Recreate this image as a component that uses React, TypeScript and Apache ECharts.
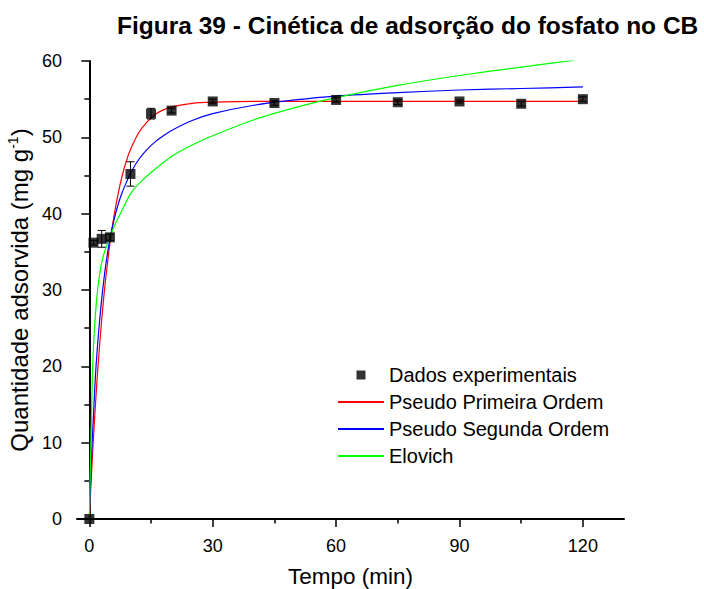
import React, { useEffect, useRef } from "react";
import * as echarts from "echarts";

const FONT = '"Liberation Sans", Arial, Helvetica, sans-serif';

const titleText = "Figura 39 - Cinética de adsorção do fosfato no CB";
const legendNames = ["Dados experimentais", "Pseudo Primeira Ordem", "Pseudo Segunda Ordem", "Elovich"];

// experimental data (min, mg/g)
const expTimes = [0, 1, 3, 5, 10, 15, 20, 30, 45, 60, 75, 90, 105, 120];
const expValues = [0, 36.2, 36.7, 36.9, 45.2, 53.1, 53.5, 54.7, 54.5, 54.9, 54.6, 54.7, 54.4, 55.0];
const expErrors = [0, 0.3, 1.1, 0.4, 1.6, 0.7, 0.3, 0.3, 0.3, 0.3, 0.3, 0.2, 0.3, 0.3];

// fitted curves
const fitTimes = [0, 0.25, 0.5, 0.75, 1, 1.5, 2, 2.5, 3, 3.5, 4, 5, 6, 7, 8, 9, 10, 12, 14, 16, 18, 20, 25, 30, 40, 50, 60, 75, 90, 105, 120];
const pfoValues = [0, 2.9, 5.6, 8.2, 10.6, 15.1, 19.2, 22.8, 26.1, 29.0, 31.6, 36.1, 39.7, 42.6, 45.0, 46.9, 48.4, 50.6, 52.0, 53.0, 53.6, 54.0, 54.45, 54.6, 54.7, 54.7, 54.7, 54.7, 54.7, 54.7, 54.7];
const psoValues = [0, 4.0, 7.6, 10.8, 13.5, 18.9, 22.8, 26.0, 28.8, 31.2, 33.3, 36.7, 39.2, 41.2, 42.8, 44.1, 45.3, 47.1, 48.4, 49.4, 50.2, 50.9, 52.2, 53.1, 54.2, 54.9, 55.4, 55.85, 56.2, 56.4, 56.6];
const elovichTimes = [0, 0.2, 0.4, 0.6, 0.8, 1, 1.5, 2, 2.5, 3, 4, 5, 6, 8, 10, 12, 15, 20, 25, 30, 40, 50, 60, 75, 90, 105, 118];
const elovichValues = [0, 5.5, 10.5, 15.5, 19.8, 22.5, 27.0, 30.0, 32.0, 33.6, 35.5, 36.9, 38.3, 40.5, 42.6, 43.9, 45.4, 47.5, 49.0, 50.2, 52.3, 53.9, 55.2, 56.8, 58.1, 59.2, 60.1];

const xMajorTicks = [0, 30, 60, 90, 120];
const xMinorTicks = [15, 45, 75, 105];

export default function App() {
  const ref = useRef<HTMLDivElement>(null);

  useEffect(() => {
    if (!ref.current) return;
    const chart = echarts.init(ref.current, null, { renderer: "svg" });

    const pair = (ts: number[], vs: number[]) => ts.map((t, i) => [t, vs[i]]);

    const option: any = {
      animation: false,
      backgroundColor: "#fff",
      textStyle: { fontFamily: FONT, color: "#000" },
      title: {
        text: titleText,
        left: 117,
        top: 13,
        padding: 0,
        textStyle: { fontFamily: FONT, fontSize: 24.5, fontWeight: "bold", color: "#000" },
      },
      legend: {
        data: [
          { name: legendNames[0], icon: "path://M0,0h10v10h-10z" },
          { name: legendNames[1], itemStyle: { opacity: 0, borderWidth: 0 } },
          { name: legendNames[2], itemStyle: { opacity: 0, borderWidth: 0 } },
          { name: legendNames[3], itemStyle: { opacity: 0, borderWidth: 0 } },
        ],
        orient: "vertical",
        left: 337,
        top: 365,
        padding: 0,
        itemWidth: 46,
        itemHeight: 9,
        itemGap: 7,
        symbolKeepAspect: true,
        selectedMode: false,
        textStyle: { fontFamily: FONT, fontSize: 20, color: "#000" },
      },
      grid: { left: 77, right: 80, top: 61, bottom: 70, containLabel: false, outerBoundsMode: "none" },
      xAxis: [
        {
          type: "value",
          min: -3,
          max: 130,
          position: "bottom",
          name: "Tempo (min)",
          nameLocation: "middle",
          nameGap: 46,
          nameTextStyle: { fontFamily: FONT, fontSize: 22.5, color: "#000" },
          axisLine: { show: true, lineStyle: { color: "#000", width: 2 } },
          axisTick: { show: true, customValues: xMajorTicks, length: 8, lineStyle: { color: "#000", width: 1.5 } },
          axisLabel: { show: true, customValues: xMajorTicks, margin: 18, fontFamily: FONT, fontSize: 18, color: "#000" },
          splitLine: { show: false },
        },
        {
          type: "value",
          min: -3,
          max: 130,
          position: "bottom",
          axisLine: { show: false },
          axisTick: { show: true, customValues: xMinorTicks, length: 4.5, lineStyle: { color: "#000", width: 1.5 } },
          axisLabel: { show: false },
          splitLine: { show: false },
        },
      ],
      yAxis: {
        type: "value",
        min: 0,
        max: 60,
        interval: 10,
        name: "{a|Quantidade adsorvida (mg g}{s|-1}{a|)}",
        nameLocation: "middle",
        nameGap: 33,
        nameTextStyle: {
          fontFamily: FONT,
          fontSize: 24,
          color: "#000",
          rich: {
            a: { fontFamily: FONT, fontSize: 24, color: "#000", lineHeight: 26 },
            s: { fontFamily: FONT, fontSize: 14, color: "#000", verticalAlign: "top", lineHeight: 26 },
          },
        },
        axisLine: { show: true, lineStyle: { color: "#000", width: 2 } },
        axisTick: { show: true, length: 8, lineStyle: { color: "#000", width: 1.5 } },
        minorTick: { show: true, splitNumber: 2, length: 5, lineStyle: { color: "#000", width: 1.5 } },
        axisLabel: { margin: 15, fontFamily: FONT, fontSize: 18, color: "#000" },
        splitLine: { show: false },
        minorSplitLine: { show: false },
      },
      series: [
        {
          name: "errors",
          type: "custom",
          xAxisIndex: 0,
          yAxisIndex: 0,
          silent: true,
          z: 3,
          encode: { x: 0, y: [1, 2] },
          data: expTimes.map((t, i) => [t, expValues[i] - expErrors[i], expValues[i] + expErrors[i]]),
          renderItem: (params: any, api: any) => {
            const x = api.value(0);
            const lo = api.coord([x, api.value(1)]);
            const hi = api.coord([x, api.value(2)]);
            const w = 4;
            const st = { stroke: "#000", lineWidth: 1 };
            return {
              type: "group",
              children: [
                { type: "line", shape: { x1: lo[0], y1: lo[1], x2: hi[0], y2: hi[1] }, style: st },
                { type: "line", shape: { x1: hi[0] - w, y1: hi[1], x2: hi[0] + w, y2: hi[1] }, style: st },
                { type: "line", shape: { x1: lo[0] - w, y1: lo[1], x2: lo[0] + w, y2: lo[1] }, style: st },
              ],
            };
          },
        },
        {
          name: "Pseudo Primeira Ordem",
          type: "line",
          xAxisIndex: 0,
          data: pair(fitTimes, pfoValues),
          symbol: "none",
          smooth: 0.25,
          z: 2,
          lineStyle: { color: "#ff0000", width: 1.2 },
          itemStyle: { color: "#ff0000" },
        },
        {
          name: "Pseudo Segunda Ordem",
          type: "line",
          xAxisIndex: 0,
          data: pair(fitTimes, psoValues),
          symbol: "none",
          smooth: 0.25,
          z: 2,
          lineStyle: { color: "#0000ff", width: 1.2 },
          itemStyle: { color: "#0000ff" },
        },
        {
          name: "Elovich",
          type: "line",
          xAxisIndex: 0,
          data: pair(elovichTimes, elovichValues),
          symbol: "none",
          smooth: 0.25,
          z: 2,
          lineStyle: { color: "#00ff00", width: 1.2 },
          itemStyle: { color: "#00ff00" },
        },
        {
          name: "Dados experimentais",
          type: "scatter",
          xAxisIndex: 0,
          data: pair(expTimes, expValues),
          symbol: "rect",
          symbolSize: 10,
          z: 5,
          itemStyle: { color: "#000" },
        },
      ],
    };

    chart.setOption(option);
    return () => chart.dispose();
  }, []);

  return (
    <div
      ref={ref}
      style={{ position: "fixed", left: 0, top: 0, width: 704, height: 589, background: "#fff" }}
    />
  );
}
